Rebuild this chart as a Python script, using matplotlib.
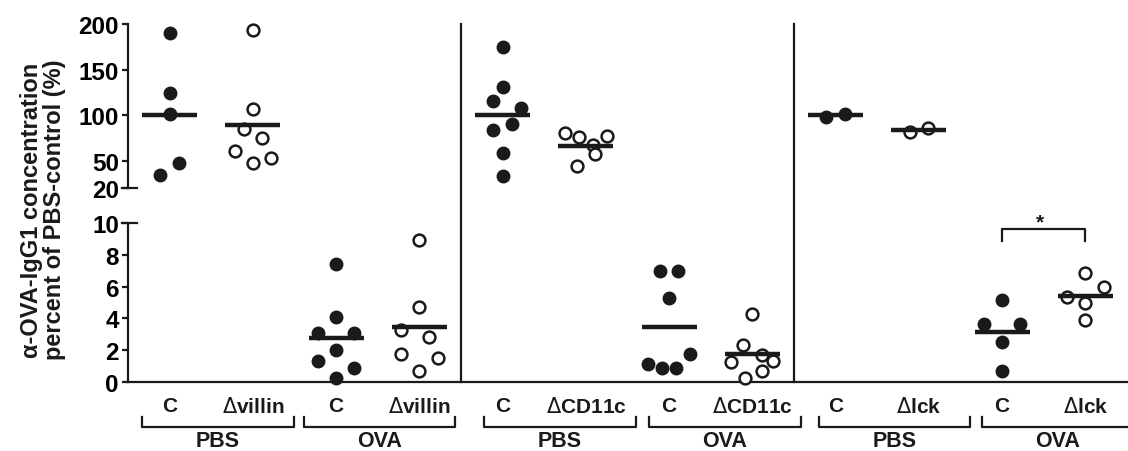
import numpy as np
import matplotlib
matplotlib.use("Agg")
import matplotlib.pyplot as plt
from matplotlib import transforms

plt.rcParams['font.family'] = ['Liberation Sans', 'DejaVu Sans']
plt.rcParams['font.weight'] = 'bold'
# keep the delta thin: math glyphs come from a regular-weight face
plt.rcParams['mathtext.fontset'] = 'custom'
plt.rcParams['mathtext.rm'] = 'DejaVu Sans:weight=normal'
plt.rcParams['mathtext.it'] = 'DejaVu Sans:italic:weight=normal'
plt.rcParams['mathtext.bf'] = 'DejaVu Sans:weight=bold'

# ── data ────────────────────────────────────────────────────────────────
tick_labels = ["C", r"$\Delta$villin", "C", r"$\Delta$villin",
               "C", r"$\Delta$CD11c", "C", r"$\Delta$CD11c",
               "C", r"$\Delta$lck", "C", r"$\Delta$lck"]
group_labels = ["PBS", "OVA", "PBS", "OVA", "PBS", "OVA"]
treatment = ["PBS", "PBS", "OVA", "OVA"] * 3
knockout = [False, True] * 6          # open circles for knockouts

values = [
    [190, 124, 101, 47, 34],
    [193, 107, 85, 75, 61, 47, 53],
    [7.4, 4.1, 3.1, 3.1, 2.0, 1.35, 0.9, 0.25],
    [8.9, 4.7, 3.3, 2.85, 1.75, 1.5, 0.7],
    [175, 131, 116, 108, 90, 84, 58, 33],
    [80, 76, 77, 67, 57, 44],
    [6.95, 6.95, 5.3, 1.75, 1.15, 0.9, 0.9],
    [4.3, 2.3, 1.7, 1.25, 1.3, 0.7, 0.25],
    [97.5, 101],
    [81, 85.5],
    [5.15, 3.65, 3.65, 2.5, 0.7],
    [6.85, 5.95, 5.35, 5.0, 3.9],
]
# horizontal scatter slots (scatter-dot layout)
slots = [
    [0, 0, 0, 1, -1],
    [0, 0, -1, 1, -2, 0, 2],
    [0, 0, -2, 2, 0, -2, 2, 0],
    [0, 0, -2, 1, -2, 2, 0],
    [0, 0, -1, 2, 1, -1, 0, 0],
    [-2.3, -0.8, 2.3, 0.8, 1, -1],
    [-1, 1, 0, 2.3, -2.3, -0.8, 0.8],
    [0, -1, 1, -2.3, 2.3, 1, -0.8],
    [-1, 1],
    [-1, 1],
    [0, -2, 2, 0, 0],
    [0, 2, -2, 0, 0],
]
means = [100, 89, 2.75, 3.44, 100, 66, 3.44, 1.76, 100, 83.5, 3.17, 5.43]

SLOT = 0.11
HALF_MEAN = 0.33
INK = '#1a1a1a'

fig = plt.figure(figsize=(11.28, 4.52), dpi=100)
L, R = 128 / 1128, 1127 / 1128
ax_hi = fig.add_axes([L, 1 - 189 / 452, R - L, (189 - 25) / 452])
ax_lo = fig.add_axes([L, 1 - 383 / 452, R - L, (383 - 224) / 452])

for ax in (ax_hi, ax_lo):
    ax.set_xlim(-0.5, 11.5)
    for s in ('top', 'right'):
        ax.spines[s].set_visible(False)
    ax.spines['left'].set_linewidth(1.6)
    ax.spines['left'].set_color(INK)
    ax.tick_params(axis='y', length=4.5, width=1.6, color=INK, labelsize=17.5, pad=2)
    ax.tick_params(axis='x', length=0, labelbottom=False)
    ax.patch.set_visible(False)

ax_hi.spines['bottom'].set_visible(False)
ax_hi.set_ylim(20, 200)
ax_hi.set_yticks([20, 50, 100, 150, 200])
ax_lo.set_ylim(0, 10)
ax_lo.set_yticks([0, 2, 4, 6, 8, 10])
ax_lo.spines['bottom'].set_linewidth(1.6)
ax_lo.spines['bottom'].set_color(INK)

# break marks at the ends of the split axis
ax_hi.plot([-0.006, 0.009], [0, 0], transform=ax_hi.transAxes, color=INK, lw=1.6, clip_on=False)
ax_lo.plot([-0.006, 0.009], [1, 1], transform=ax_lo.transAxes, color=INK, lw=1.6, clip_on=False)

# ── points and mean lines ───────────────────────────────────────────────
for i, (vals, sl, m) in enumerate(zip(values, slots, means)):
    ax = ax_hi if treatment[i] == "PBS" else ax_lo
    xs = i + SLOT * np.array(sl)
    if knockout[i]:
        ax.plot(xs, vals, 'o', ms=8.5, mfc='white', mec=INK, mew=1.8, ls='none', clip_on=False, zorder=3)
    else:
        ax.plot(xs, vals, 'o', ms=9, mfc=INK, mec=INK, ls='none', clip_on=False, zorder=3)
    ax.plot([i - HALF_MEAN, i + HALF_MEAN], [m, m], color=INK, lw=3.2, solid_capstyle='butt', zorder=4)

# significance bracket OVA C vs OVA dlck
ax_lo.plot([10, 10, 11, 11], [8.85, 9.6, 9.6, 8.85], color=INK, lw=1.6, clip_on=False)
ax_lo.text(10.45, 9.75, "*", ha='center', va='baseline', fontsize=15, color=INK)

# vertical separators between the three panels
sep_tr = transforms.blended_transform_factory(ax_lo.transData, fig.transFigure)
for xsep in (3.5, 7.5):
    ax_lo.plot([xsep, xsep], [1 - 383 / 452, 1 - 25 / 452], transform=sep_tr,
               color=INK, lw=1.6, clip_on=False)

# ── category labels & brackets ──────────────────────────────────────────
lab_tr = transforms.blended_transform_factory(ax_lo.transData, fig.transFigure)
for i, lab in enumerate(tick_labels):
    ax_lo.text(i, 1 - 407 / 452, lab, transform=lab_tr, ha='center', va='center',
               fontsize=15, color=INK)

bracket_shift = [0.08, 0.02, 0.19, 0.17, 0.21, 0.17]
for k, (g, sh) in enumerate(zip(group_labels, bracket_shift)):
    c = 2 * k + 0.5 + sh
    y0, y1 = 1 - 418 / 452, 1 - 428 / 452
    ax_lo.plot([c - 0.91, c - 0.91, c + 0.91, c + 0.91], [y0, y1, y1, y0],
               transform=lab_tr, color=INK, lw=1.6, clip_on=False)
    ax_lo.text(c, 1 - 442 / 452, g, transform=lab_tr, ha='center', va='center',
               fontsize=15.5, color=INK)

fig.text(0.038, 0.535, "\u03b1-OVA-IgG1 concentration\npercent of PBS-control (%)",
         rotation=90, ha='center', va='center', multialignment='center',
         fontsize=17, color=INK, linespacing=1.02)

fig.savefig("out.png", dpi=100)
